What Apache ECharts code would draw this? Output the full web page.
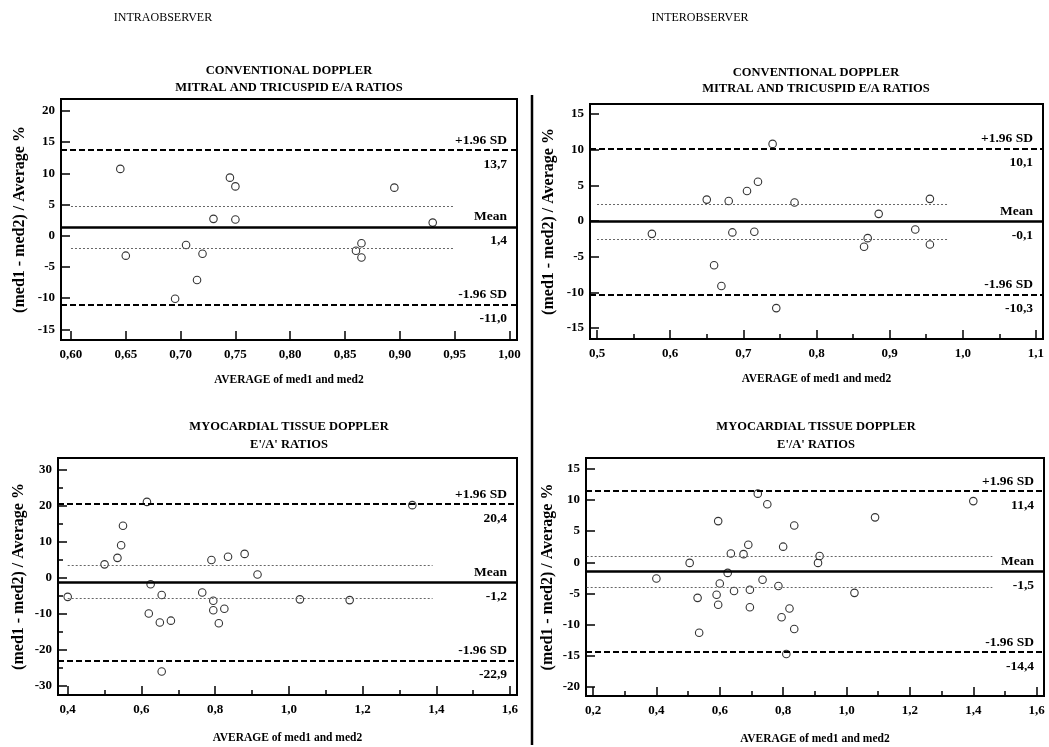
<!DOCTYPE html>
<html><head><meta charset="utf-8">
<script src="https://cdn.jsdelivr.net/npm/echarts@6/dist/echarts.min.js"></script>
<style>html,body{margin:0;padding:0;background:#fff}#c{width:1049px;height:747px}</style>
</head><body><div id="c"></div><script>
// ---------------- DATA ----------------
// Panel 1: Intraobserver, conventional Doppler
const p1X = [0.645,0.65,0.695,0.705,0.715,0.72,0.73,0.745,0.75,0.75,0.86,0.865,0.865,0.895,0.93];
const p1Y = [10.7,-3.2,-10.1,-1.5,-7.1,-2.9,2.7,9.3,7.9,2.6,-2.4,-1.2,-3.5,7.7,2.1];
// Panel 2: Interobserver, conventional Doppler
const p2X = [0.575,0.65,0.66,0.67,0.68,0.685,0.705,0.715,0.72,0.74,0.745,0.77,0.865,0.87,0.885,0.935,0.955,0.955];
const p2Y = [-1.8,3.0,-6.2,-9.1,2.8,-1.6,4.2,-1.5,5.5,10.8,-12.2,2.6,-3.6,-2.4,1.0,-1.2,3.1,-3.3];
// Panel 3: Intraobserver, myocardial tissue Doppler
const p3X = [0.40,0.50,0.535,0.545,0.55,0.615,0.62,0.625,0.65,0.655,0.655,0.68,0.765,0.79,0.795,0.795,0.81,0.825,0.835,0.88,0.915,1.03,1.165,1.335];
const p3Y = [-5.3,3.7,5.5,9.0,14.4,21.0,-9.9,-1.8,-12.4,-4.8,-26.0,-11.9,-4.1,4.9,-6.4,-9.0,-12.6,-8.6,5.8,6.6,0.9,-6.0,-6.2,20.1];
// Panel 4: Interobserver, myocardial tissue Doppler
const p4X = [0.40,0.505,0.53,0.535,0.59,0.595,0.595,0.60,0.625,0.635,0.645,0.675,0.69,0.695,0.695,0.72,0.735,0.75,0.785,0.80,0.795,0.81,0.82,0.835,0.835,0.91,0.915,1.025,1.09,1.40];
const p4Y = [-2.6,-0.1,-5.7,-11.3,-5.2,6.6,-6.8,-3.4,-1.7,1.4,-4.6,1.3,2.8,-4.4,-7.2,11.0,-2.8,9.3,-3.8,2.5,-8.8,-14.7,-7.4,5.9,-10.7,-0.1,1.0,-4.9,7.2,9.8];

// Bland-Altman lines (per panel 1..4)
const upperLoA = [13.7, 10.1, 20.4, 11.4];
const meanDiff = [1.4, -0.1, -1.2, -1.5];
const lowerLoA = [-11.0, -10.3, -22.9, -14.4];
const ciUpper  = [4.7, 2.3, 3.4, 1.0];
const ciLower  = [-2.0, -2.6, -5.8, -4.0];
const ciXStart = [0.60, 0.50, 0.40, 0.18];
const ciXEnd   = [0.95, 0.98, 1.39, 1.46];

// Tick values
const p1XTicks = [0.60,0.65,0.70,0.75,0.80,0.85,0.90,0.95,1.00];
const p1YTicks = [-15,-10,-5,0,5,10,15,20];
const p2XTicks = [0.5,0.6,0.7,0.8,0.9,1.0,1.1];
const p2XMinor = [0.55,0.65,0.75,0.85,0.95,1.05];
const p2YTicks = [-15,-10,-5,0,5,10,15];
const p3XTicks = [0.4,0.6,0.8,1.0,1.2,1.4,1.6];
const p3XMinor = [0.5,0.7,0.9,1.1,1.3,1.5];
const p3YTicks = [-30,-20,-10,0,10,20,30];
const p3YMinor = [-25,-15,-5,5,15,25];
const p4XTicks = [0.2,0.4,0.6,0.8,1.0,1.2,1.4,1.6];
const p4XMinor = [0.3,0.5,0.7,0.9,1.1,1.3,1.5];
const p4YTicks = [-20,-15,-10,-5,0,5,10,15];

const headers = ['INTRAOBSERVER', 'INTEROBSERVER'];
const titles = [
  ['CONVENTIONAL DOPPLER', 'MITRAL AND TRICUSPID E/A RATIOS'],
  ['CONVENTIONAL DOPPLER', 'MITRAL AND TRICUSPID E/A RATIOS'],
  ['MYOCARDIAL TISSUE DOPPLER', "E'/A' RATIOS"],
  ['MYOCARDIAL TISSUE DOPPLER', "E'/A' RATIOS"]
];
const xName = 'AVERAGE of med1 and med2';
const yName = '(med1 - med2) / Average %';

// ---------------- LAYOUT ----------------
const FONT = 'Liberation Serif';
const xs = [p1X, p2X, p3X, p4X];
const ys = [p1Y, p2Y, p3Y, p4Y];
const xTicks = [p1XTicks, p2XTicks, p3XTicks, p4XTicks];
const yTicks = [p1YTicks, p2YTicks, p3YTicks, p4YTicks];
const xMinor = [null, p2XMinor, p3XMinor, p4XMinor];
const yMinor = [null, null, p3YMinor, null];
const xDec = [2, 1, 1, 1];
const grids = [
  {left: 61, top: 99, width: 456, height: 241},
  {left: 590, top: 104, width: 453, height: 235},
  {left: 58, top: 458, width: 459, height: 237},
  {left: 586, top: 458, width: 458, height: 238}
];
const xRange = [[0.5909, 1.0069], [0.4904, 1.1096], [0.3737, 1.619], [0.1779, 1.6231]];
const yRange = [[-16.71, 21.9], [-16.53, 16.39], [-32.49, 33.16], [-21.43, 16.71]];
const xNameGap = [34, 34, 37, 37];
const yNameGap = [33, 33, 31, 30];

function fmt(v, d) { return v.toFixed(d).replace('.', ','); }

const txt = {color: '#000', fontFamily: FONT, fontWeight: 'bold'};
const noLine = {show: false, onZero: false};
const xAxes = [], yAxes = [], series = [];
for (let i = 0; i < 4; i++) {
  xAxes.push({
    gridIndex: i, type: 'value', min: xRange[i][0], max: xRange[i][1], position: 'bottom',
    axisLine: noLine, splitLine: {show: false},
    axisTick: {show: true, inside: true, length: 9, customValues: xTicks[i], lineStyle: {color: '#000', width: 1.5}},
    axisLabel: Object.assign({customValues: xTicks[i], margin: 8, fontSize: 13, formatter: (v) => fmt(v, xDec[i])}, txt),
    name: xName, nameLocation: 'middle', nameGap: xNameGap[i],
    nameTextStyle: Object.assign({fontSize: 11.5}, txt)
  });
  yAxes.push({
    gridIndex: i, type: 'value', min: yRange[i][0], max: yRange[i][1], position: 'left',
    axisLine: noLine, splitLine: {show: false},
    axisTick: {show: true, inside: true, length: 9, customValues: yTicks[i], lineStyle: {color: '#000', width: 1.5}},
    axisLabel: Object.assign({customValues: yTicks[i], margin: 6, fontSize: 13, formatter: (v) => String(v)}, txt),
    name: yName, nameLocation: 'middle', nameGap: yNameGap[i],
    nameTextStyle: Object.assign({fontSize: 16}, txt)
  });
}
// minor tick axes
for (let i = 0; i < 4; i++) {
  if (xMinor[i]) xAxes.push({
    gridIndex: i, type: 'value', min: xRange[i][0], max: xRange[i][1], position: 'bottom',
    axisLine: noLine, splitLine: {show: false}, axisLabel: {show: false},
    axisTick: {show: true, inside: true, length: 5, customValues: xMinor[i], lineStyle: {color: '#000', width: 1.5}}
  });
  if (yMinor[i]) yAxes.push({
    gridIndex: i, type: 'value', min: yRange[i][0], max: yRange[i][1], position: 'left',
    axisLine: noLine, splitLine: {show: false}, axisLabel: {show: false},
    axisTick: {show: true, inside: true, length: 5, customValues: yMinor[i], lineStyle: {color: '#000', width: 1.5}}
  });
}

const richTxt = {fontSize: 13.5, color: '#000', fontFamily: FONT, fontWeight: 'bold', align: 'right'};
const lineLabel = (name, val) => ({
  show: true, position: 'insideEnd', distance: 10,
  formatter: '{a|' + name + '}\n{b|' + val + '}',
  rich: {a: Object.assign({lineHeight: 28}, richTxt), b: Object.assign({lineHeight: 20}, richTxt)}
});
const dashed = {type: [6, 3], width: 2, color: '#000'};
const dotted = {type: [2, 2], width: 1, color: '#666'};

for (let i = 0; i < 4; i++) {
  series.push({
    type: 'line', xAxisIndex: i, yAxisIndex: i, data: [], z: 1, silent: true,
    markLine: {
      symbol: 'none', silent: true, animation: false,
      data: [
        {yAxis: upperLoA[i], lineStyle: dashed, label: lineLabel('+1.96 SD', fmt(upperLoA[i], 1))},
        {yAxis: meanDiff[i], lineStyle: {type: 'solid', width: 2.5, color: '#000'}, label: lineLabel('Mean', fmt(meanDiff[i], 1))},
        {yAxis: lowerLoA[i], lineStyle: dashed, label: lineLabel('-1.96 SD', fmt(lowerLoA[i], 1))},
        [{coord: [ciXStart[i], ciUpper[i]], lineStyle: dotted, label: {show: false}}, {coord: [ciXEnd[i], ciUpper[i]]}],
        [{coord: [ciXStart[i], ciLower[i]], lineStyle: dotted, label: {show: false}}, {coord: [ciXEnd[i], ciLower[i]]}]
      ]
    }
  });
  series.push({
    type: 'scatter', xAxisIndex: i, yAxisIndex: i, z: 3,
    data: xs[i].map((x, k) => [x, ys[i][k]]),
    symbol: 'circle', symbolSize: 7.5,
    itemStyle: {color: '#fff', borderColor: '#000', borderWidth: 1.1}
  });
}

const graphic = [
  {type: 'line', shape: {x1: 532, y1: 95, x2: 532, y2: 745}, style: {stroke: '#000', lineWidth: 2.5}},
  {type: 'text', x: 163, y: 18, style: {text: headers[0], textAlign: 'center', textVerticalAlign: 'middle', font: '12px "Liberation Serif"', fill: '#000'}},
  {type: 'text', x: 700, y: 18, style: {text: headers[1], textAlign: 'center', textVerticalAlign: 'middle', font: '12px "Liberation Serif"', fill: '#000'}}
];
const titlePos = [[289, 71, 88], [816, 73, 89], [289, 427, 445], [816, 427, 445]];
for (let i = 0; i < 4; i++) {
  for (let j = 0; j < 2; j++) {
    graphic.push({type: 'text', x: titlePos[i][0], y: titlePos[i][1 + j],
      style: {text: titles[i][j], textAlign: 'center', textVerticalAlign: 'middle', font: 'bold 12.5px "Liberation Serif"', fill: '#000'}});
  }
}

const chart = echarts.init(document.getElementById('c'), null, {renderer: 'canvas'});
chart.setOption({
  animation: false,
  backgroundColor: '#fff',
  grid: grids.map(g => Object.assign({show: true, borderColor: '#000', borderWidth: 2, backgroundColor: 'transparent', containLabel: false}, g)),
  xAxis: xAxes,
  yAxis: yAxes,
  series: series,
  graphic: graphic
});
</script></body></html>
